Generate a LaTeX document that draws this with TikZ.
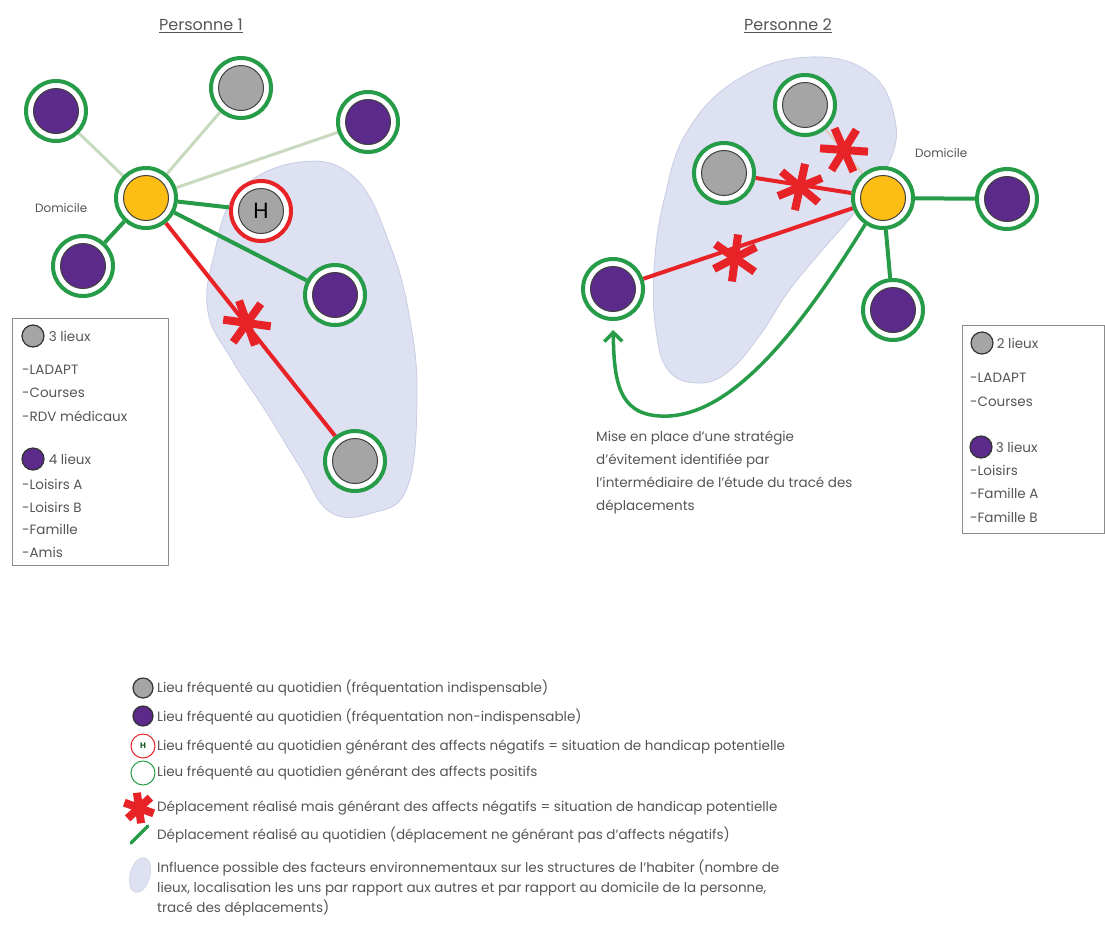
\documentclass[tikz,border=0pt]{standalone}
\usepackage{fontspec}
\setmainfont{Poppins}
\usepackage{xcolor}
\usetikzlibrary{arrows.meta,positioning,backgrounds,shapes.geometric}

\definecolor{vert}{RGB}{38,155,72}
\definecolor{rouge}{RGB}{232,35,40}
\definecolor{violetlieu}{RGB}{92,42,138}
\definecolor{grislieu}{RGB}{165,165,165}
\definecolor{jaune}{RGB}{252,190,20}
\definecolor{bleuzone}{RGB}{221,225,242}
\definecolor{bordzone}{RGB}{200,205,228}
\definecolor{pale}{RGB}{200,218,190}
\definecolor{paleocre}{RGB}{226,204,184}
\definecolor{texte}{RGB}{85,85,85}

\tikzset{
  croix/.pic = {
    \draw[rouge, line width=8pt] (-24,0) -- (24,0);
    \draw[rouge, line width=8pt] (-11,-21) -- (11,21);
    \draw[rouge, line width=8pt] (11,-21) -- (-11,21);
  }
}

\begin{document}
\begin{tikzpicture}[
  x = 1pt, y = -1pt,
  lieu/.style    = {circle, draw=vert, line width=4pt, fill=white,
                    minimum size=60pt, inner sep=0pt,
                    path picture={\draw[line width=1pt, draw=black!75, fill=#1]
                      (path picture bounding box.center) circle (22.5pt);}},
  lieuneg/.style = {lieu=#1, draw=rouge},
  pastille/.style = {circle, draw=black!80, line width=1.2pt, fill=#1,
                    minimum size=22pt, inner sep=0pt},
  txt/.style     = {anchor=west, inner sep=0pt, text=texte,
                    font=\fontsize{13.5}{15}\selectfont},
  titre/.style   = {inner sep=0pt, text=texte, font=\fontsize{16}{18}\selectfont},
  trajet/.style  = {vert, line width=4pt},
  echec/.style   = {rouge, line width=4pt},
  faible/.style  = {pale, line width=3pt},
  zone/.style    = {fill=bleuzone, draw=bordzone, line width=0.8pt},
  cadre/.style   = {draw=black!45, line width=1pt}
]
  \useasboundingbox (0,0) rectangle (1105,935);

  % Personne 1
  \node[titre] (titre1) at (201,26) {\underline{Personne 1}};
  \node[lieu=jaune]      (dom1) at (146,198) {};
  \node[lieu=violetlieu] (v1a)  at (56,111)  {};
  \node[lieu=grislieu]   (g1a)  at (241,88)  {};
  \node[lieu=violetlieu] (v1b)  at (368,122) {};
  \node[lieuneg=grislieu, font=\fontsize{22}{22}\selectfont] (h1) at (261,211) {H};
  \node[lieu=violetlieu] (v1c)  at (83,266)  {};
  \node[lieu=violetlieu] (v1d)  at (335,295) {};
  \node[lieu=grislieu]   (g1b)  at (355,461) {};
  \node[txt, font=\fontsize{12}{14}\selectfont] (domlab1) at (35,208) {Domicile};

  % Personne 2
  \node[titre] (titre2) at (788,26) {\underline{Personne 2}};
  \node[lieu=jaune]      (dom2) at (883,198) {};
  \node[lieu=grislieu]   (g2a)  at (805,105) {};
  \node[lieu=grislieu]   (g2b)  at (724,173) {};
  \node[lieu=violetlieu] (v2a)  at (613,289) {};
  \node[lieu=violetlieu] (v2b)  at (1007,199) {};
  \node[lieu=violetlieu] (v2c)  at (893,310) {};
  \node[txt, font=\fontsize{12}{14}\selectfont] (domlab2) at (915,153) {Domicile};

  \begin{scope}[on background layer]
    % zones d'influence
    \draw[zone] plot[smooth cycle, tension=0.7] coordinates {
      (300,162) (355,178) (390,245) (410,320) (417,400) (407,488)
      (372,513) (330,512) (300,467) (265,410) (232,360) (208,312)
      (214,255) (238,192)};
    \draw[zone] plot[smooth cycle, tension=0.7] coordinates {
      (810,57) (870,73) (895,120) (888,165) (855,212) (818,255)
      (788,292) (760,335) (728,372) (697,383) (668,370) (656,330)
      (654,270) (664,200) (688,130) (740,78)};
    % deplacements
    \draw[faible] (dom1) -- (v1a);
    \draw[faible] (dom1) -- (g1a);
    \draw[faible] (dom1) -- (v1b);
    \draw[trajet] (dom1) -- (h1);
    \draw[trajet] (dom1) -- (v1c);
    \draw[trajet] (dom1) -- (v1d);
    \draw[echec]  (dom1) -- (g1b);
    \draw[paleocre, line width=2pt] (dom2) -- (g2a);
    \draw[echec]  (dom2) -- (g2b);
    \draw[echec]  (dom2) -- (v2a);
    \draw[trajet] (dom2) -- (v2b);
    \draw[trajet] (dom2) -- (v2c);
  \end{scope}

  % situations de handicap
  \pic[rotate=-8] at (247,323) {croix};
  \pic[rotate=-4] at (844,150) {croix};
  \pic[rotate=-40] at (800,187) {croix};
  \pic[rotate=-35] at (735,258) {croix};

  % strategie d'evitement
  \draw[trajet, line width=3.5pt, -{Straight Barb[length=9pt, width=18pt]}, shorten >=9pt]
    (dom2.236) .. controls (800,330) and (730,420) .. (660,416)
    .. controls (618,414) and (614,380) .. (v2a.south);
  \node[txt, anchor=north west, align=left, font=\fontsize{13.5}{23}\selectfont]
    (strat) at (596,431) {Mise en place d’une stratégie\\
    d’évitement identifiée par\\
    l’intermédiaire de l’étude du tracé des\\
    déplacements};

  % encadre Personne 1
  \draw[cadre] (12,318) rectangle (168,565);
  \node[pastille=grislieu]   (pg1) at (33,336) {};
  \node[txt, right=4pt of pg1] (n1a) {3 lieux};
  \node[txt] (l1a) at (22,370) {-LADAPT};
  \node[txt] (l1b) at (22,393) {-Courses};
  \node[txt] (l1c) at (22,416) {-RDV médicaux};
  \node[pastille=violetlieu] (pv1) at (33,459) {};
  \node[txt, right=4pt of pv1] (n1b) {4 lieux};
  \node[txt] (l1d) at (22,484) {-Loisirs A};
  \node[txt] (l1e) at (22,507) {-Loisirs B};
  \node[txt] (l1f) at (22,529) {-Famille};
  \node[txt] (l1g) at (22,552) {-Amis};

  % encadre Personne 2
  \draw[cadre] (962,325) rectangle (1104,533);
  \node[pastille=grislieu]   (pg2) at (982,343) {};
  \node[txt, right=3pt of pg2] (n2a) {2 lieux};
  \node[txt] (l2a) at (970,378) {-LADAPT};
  \node[txt] (l2b) at (970,402) {-Courses};
  \node[pastille=violetlieu] (pv2) at (981,447) {};
  \node[txt, right=3pt of pv2] (n2b) {3 lieux};
  \node[txt] (l2c) at (970,470) {-Loisirs};
  \node[txt] (l2d) at (970,493) {-Famille A};
  \node[txt] (l2e) at (970,517) {-Famille B};

  % legende
  \node[pastille=grislieu, minimum size=20pt]   (lg1) at (143,688) {};
  \node[pastille=violetlieu, minimum size=20pt] (lg2) at (143,716) {};
  \node[circle, draw=rouge, line width=1pt, minimum size=24pt, inner sep=0pt,
        text=vert!60!black, font=\fontsize{8}{8}\selectfont\bfseries] (lg3) at (143,746) {H};
  \node[circle, draw=vert, line width=1pt, minimum size=24pt, inner sep=0pt] (lg4) at (143,773) {};
  \pic[scale=0.65, rotate=-20] at (139,808) {croix};
  \coordinate (lg6a) at (131,843);
  \coordinate (lg6b) at (148,826);
  \draw[trajet, line width=3.5pt, line cap=round] (lg6a) -- (lg6b);
  \node[ellipse, fill=bleuzone, draw=bordzone, minimum width=20pt, minimum height=36pt,
        rotate=-15, inner sep=0pt] (lg7) at (140,875) {};
  \node[txt] (t1) at (157,688) {Lieu fréquenté au quotidien (fréquentation indispensable)};
  \node[txt] (t2) at (157,717) {Lieu fréquenté au quotidien (fréquentation non-indispensable)};
  \node[txt] (t3) at (157,747) {Lieu fréquenté au quotidien générant des affects négatifs = situation de handicap potentielle};
  \node[txt] (t4) at (157,773) {Lieu fréquenté au quotidien générant des affects positifs};
  \node[txt] (t5) at (157,808) {Déplacement réalisé mais générant des affects négatifs = situation de handicap potentielle};
  \node[txt] (t6) at (157,835) {Déplacement réalisé au quotidien (déplacement ne générant pas d’affects négatifs)};
  \node[txt, anchor=north west, align=left, font=\fontsize{13.5}{20}\selectfont] (t7) at (157,860)
    {Influence possible des facteurs environnementaux sur les structures de l’habiter (nombre de\\
     lieux, localisation les uns par rapport aux autres et par rapport au domicile de la personne,\\
     tracé des déplacements)};
\end{tikzpicture}
\end{document}
